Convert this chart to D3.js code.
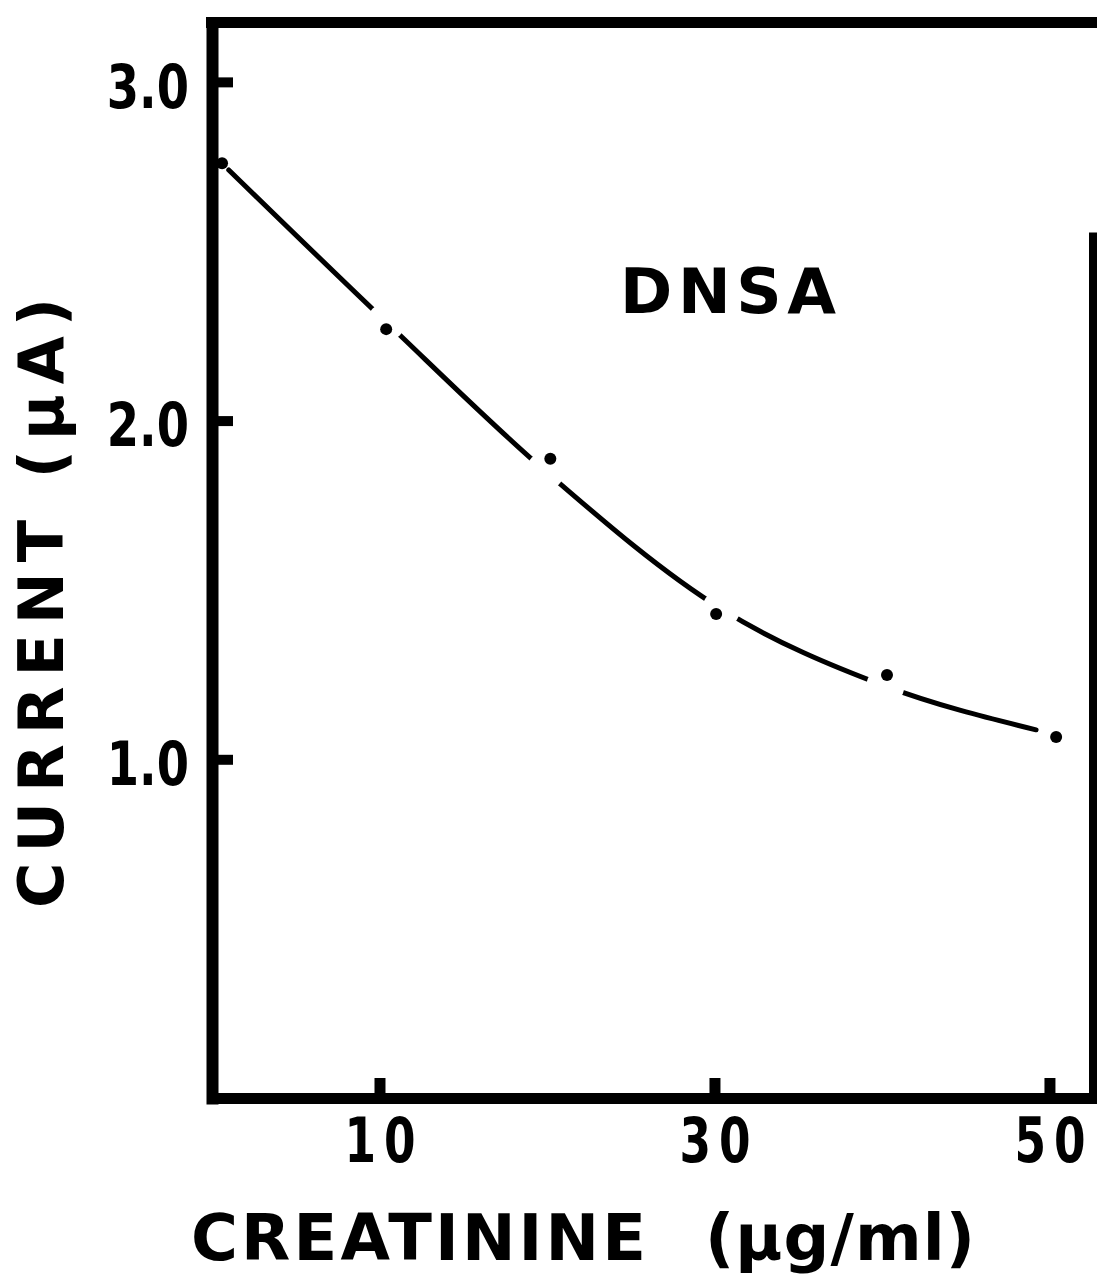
<!DOCTYPE html>
<html><head><meta charset="utf-8">
<script src="https://cdn.jsdelivr.net/npm/d3@7"></script>
<style>
body{margin:0;background:#fff}
svg{display:block}
</style>
</head><body>
<svg id="chart" width="1097" height="1279"></svg>
<script>
// measured points (dots)
const creatinine = [0.6, 10.4, 20.2, 30.1, 40.3, 50.4];
const current    = [2.76, 2.27, 1.887, 1.429, 1.249, 1.066];
// hand-drawn smooth curve through the data
const curveX = [1.0, 10.4, 19.9, 30.4, 40.2, 49.2];
const curveY = [2.74, 2.291, 1.851, 1.444, 1.216, 1.087];
// axes
const xTicks = [10, 30, 50];
const xTickLabels = ["10", "30", "50"];
const yTicks = [1, 2, 3];
const yTickLabels = ["1.0", "2.0", "3.0"];
const seriesLabel = "DNSA";
const xTitleMain = "CREATININE";
const xTitleUnit = "(µg/ml)";
const yTitle = "CURRENT (µA)";

const svg = d3.select("#chart");
const ink = "#000";

const x = d3.scaleLinear().domain([0, 52.6]).range([212, 1093]);
const y = d3.scaleLinear().domain([0, 3.175]).range([1098, 22.6]);

const numFont = "'DejaVu Sans Condensed','DejaVu Sans',sans-serif";
const txtFont = "'DejaVu Sans',Verdana,sans-serif";

// curve
const pts = curveX.map((v, i) => [v, curveY[i]]);
const line = d3.line().x(d => x(d[0])).y(d => y(d[1])).curve(d3.curveMonotoneX);
svg.append("path").datum(pts)
  .attr("d", line)
  .attr("fill", "none").attr("stroke", ink).attr("stroke-width", 5)
  .attr("stroke-linecap", "round");

// gaps in the curve at measurement positions
svg.append("g").selectAll("circle").data(pts.slice(1, 5)).join("circle")
  .attr("cx", d => x(d[0])).attr("cy", d => y(d[1])).attr("r", 19)
  .attr("fill", "#fff");

// dots
const dots = creatinine.map((v, i) => [v, current[i]]);
svg.append("g").selectAll("circle").data(dots).join("circle")
  .attr("cx", d => x(d[0])).attr("cy", d => y(d[1])).attr("r", 6)
  .attr("fill", ink);

// left axis
const ySx = 0.86;
const yAxis = d3.axisLeft(y).tickValues(yTicks)
  .tickFormat((d, i) => yTickLabels[i])
  .tickSizeInner(-21).tickSizeOuter(0).tickPadding(23);
const gy = svg.append("g").attr("transform", `translate(${x(0)},0)`).call(yAxis);
gy.select(".domain").attr("stroke", ink).attr("stroke-width", 12).attr("stroke-linecap", "square");
gy.selectAll(".tick line").attr("stroke", ink).attr("stroke-width", 10);
gy.selectAll(".tick text")
  .attr("fill", ink).attr("dy", "0.42em")
  .attr("x", -23 / ySx).attr("transform", `scale(${ySx},1)`)
  .style("font-family", numFont).style("font-weight", "bold").style("font-size", "60px");

// bottom axis
const xSx = 0.8;
const xAxis = d3.axisBottom(x).tickValues(xTicks)
  .tickFormat((d, i) => xTickLabels[i])
  .tickSizeInner(-20).tickSizeOuter(0).tickPadding(19);
const gx = svg.append("g").attr("transform", `translate(0,${y(0)})`).call(xAxis);
gx.select(".domain").attr("stroke", ink).attr("stroke-width", 11).attr("stroke-linecap", "square");
gx.selectAll(".tick line").attr("stroke", ink).attr("stroke-width", 11);
gx.selectAll(".tick text")
  .attr("fill", ink).attr("dx", "5px").attr("transform", `scale(${xSx},1)`)
  .style("font-family", numFont).style("font-weight", "bold").style("font-size", "63px")
  .style("letter-spacing", "10px");

// top and right frame
svg.append("line")
  .attr("x1", x(0) - 6).attr("x2", 1097)
  .attr("y1", y(3.175)).attr("y2", y(3.175))
  .attr("stroke", ink).attr("stroke-width", 11);
svg.append("line")
  .attr("x1", x(52.6)).attr("x2", x(52.6))
  .attr("y1", y(2.555)).attr("y2", y(0) + 5)
  .attr("stroke", ink).attr("stroke-width", 8);

// series label
svg.append("text")
  .attr("x", 620).attr("y", 313)
  .attr("textLength", 216).attr("lengthAdjust", "spacing")
  .style("font-family", txtFont).style("font-weight", "bold").style("font-size", "63px")
  .attr("fill", ink).text(seriesLabel);

// x title
svg.append("text")
  .attr("x", 191).attr("y", 1260)
  .attr("textLength", 455).attr("lengthAdjust", "spacing")
  .style("font-family", txtFont).style("font-weight", "bold").style("font-size", "64px")
  .attr("fill", ink).text(xTitleMain);
svg.append("text")
  .attr("x", 705).attr("y", 1260)
  .attr("textLength", 270).attr("lengthAdjust", "spacing")
  .style("font-family", txtFont).style("font-weight", "bold").style("font-size", "64px")
  .attr("fill", ink).text(xTitleUnit);

// y title
svg.append("text")
  .attr("transform", "translate(63,908) rotate(-90)")
  .attr("textLength", 610).attr("lengthAdjust", "spacing")
  .style("font-family", txtFont).style("font-weight", "bold").style("font-size", "62px")
  .attr("fill", ink).text(yTitle);
</script>
</body></html>
